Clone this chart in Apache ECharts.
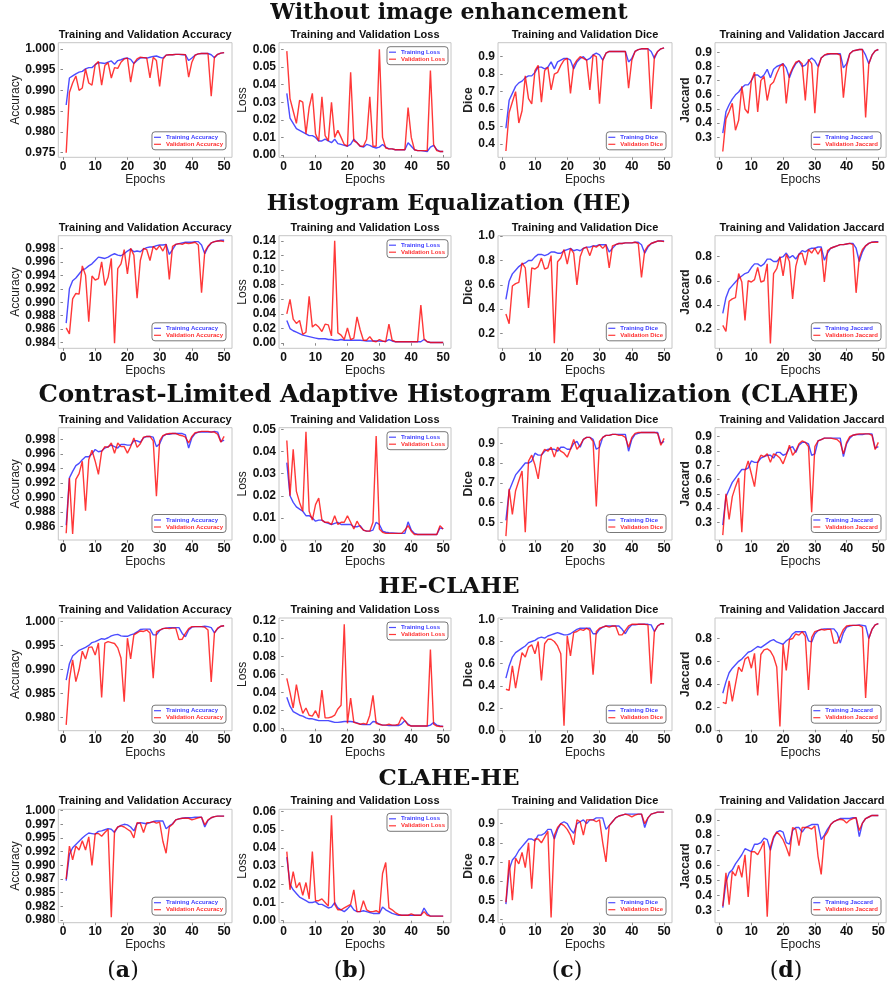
<!DOCTYPE html>
<html><head><meta charset="utf-8">
<script src="https://cdn.jsdelivr.net/npm/echarts@6/dist/echarts.min.js"></script>
<style>html,body{margin:0;padding:0;background:#fff}#c{width:888px;height:989px}</style>
</head><body><div id="c"></div><script>
// ---------- categories / labels ----------
const epochs = [1,2,3,4,5,6,7,8,9,10,11,12,13,14,15,16,17,18,19,20,21,22,23,24,25,26,27,28,29,30,31,32,33,34,35,36,37,38,39,40,41,42,43,44,45,46,47,48,49,50];
const rowTitles = ['Without image enhancement','Histogram Equalization (HE)','Contrast-Limited Adaptive Histogram Equalization (CLAHE)','HE-CLAHE','CLAHE-HE'];
const panelTitles = ['Training and Validation Accuracy','Training and Validation Loss','Training and Validation Dice','Training and Validation Jaccard'];
const yNames = ['Accuracy','Loss','Dice','Jaccard'];
const trainNames = ['Training Accuracy','Training Loss','Training Dice','Training Jaccard'];
const valNames = ['Validation Accuracy','Validation Loss','Validation Dice','Validation Jaccard'];
const subLabels = ['a','b','c','d'];
const xTicks = [0,10,20,30,40,50];

// ---------- y tick values & labels ----------
const r1AccTicks = [0.975,0.980,0.985,0.990,0.995,1.000];
const r1AccLabels = ['0.975','0.980','0.985','0.990','0.995','1.000'];
const r1LossTicks = [0,0.01,0.02,0.03,0.04,0.05,0.06];
const r1LossLabels = ['0.00','0.01','0.02','0.03','0.04','0.05','0.06'];
const r1DiceTicks = [0.4,0.5,0.6,0.7,0.8,0.9];
const r1DiceLabels = ['0.4','0.5','0.6','0.7','0.8','0.9'];
const r1JacTicks = [0.3,0.4,0.5,0.6,0.7,0.8,0.9];
const r1JacLabels = ['0.3','0.4','0.5','0.6','0.7','0.8','0.9'];

const r2AccTicks = [0.984,0.986,0.988,0.990,0.992,0.994,0.996,0.998];
const r2AccLabels = ['0.984','0.986','0.988','0.990','0.992','0.994','0.996','0.998'];
const r2LossTicks = [0,0.02,0.04,0.06,0.08,0.10,0.12,0.14];
const r2LossLabels = ['0.00','0.02','0.04','0.06','0.08','0.10','0.12','0.14'];
const r2DiceTicks = [0.2,0.4,0.6,0.8,1.0];
const r2DiceLabels = ['0.2','0.4','0.6','0.8','1.0'];
const r2JacTicks = [0.2,0.4,0.6,0.8];
const r2JacLabels = ['0.2','0.4','0.6','0.8'];

const r3AccTicks = [0.986,0.988,0.990,0.992,0.994,0.996,0.998];
const r3AccLabels = ['0.986','0.988','0.990','0.992','0.994','0.996','0.998'];
const r3LossTicks = [0,0.01,0.02,0.03,0.04,0.05];
const r3LossLabels = ['0.00','0.01','0.02','0.03','0.04','0.05'];
const r3DiceTicks = [0.5,0.6,0.7,0.8,0.9];
const r3DiceLabels = ['0.5','0.6','0.7','0.8','0.9'];
const r3JacTicks = [0.3,0.4,0.5,0.6,0.7,0.8,0.9];
const r3JacLabels = ['0.3','0.4','0.5','0.6','0.7','0.8','0.9'];

const r4AccTicks = [0.980,0.985,0.990,0.995,1.000];
const r4AccLabels = ['0.980','0.985','0.990','0.995','1.000'];
const r4LossTicks = [0,0.02,0.04,0.06,0.08,0.10,0.12];
const r4LossLabels = ['0.00','0.02','0.04','0.06','0.08','0.10','0.12'];
const r4DiceTicks = [0.0,0.2,0.4,0.6,0.8,1.0];
const r4DiceLabels = ['0.0','0.2','0.4','0.6','0.8','1.0'];
const r4JacTicks = [0.0,0.2,0.4,0.6,0.8];
const r4JacLabels = ['0.0','0.2','0.4','0.6','0.8'];

const r5AccTicks = [0.98,0.9825,0.985,0.9875,0.99,0.9925,0.995,0.9975,1.0];
const r5AccLabels = ['0.980','0.982','0.985','0.987','0.990','0.992','0.995','0.997','1.000'];
const r5LossTicks = [0,0.01,0.02,0.03,0.04,0.05,0.06];
const r5LossLabels = ['0.00','0.01','0.02','0.03','0.04','0.05','0.06'];
const r5DiceTicks = [0.4,0.5,0.6,0.7,0.8,0.9];
const r5DiceLabels = ['0.4','0.5','0.6','0.7','0.8','0.9'];
const r5JacTicks = [0.3,0.4,0.5,0.6,0.7,0.8,0.9];
const r5JacLabels = ['0.3','0.4','0.5','0.6','0.7','0.8','0.9'];

// ---------- series values: Without image enhancement ----------
const none_acc_tr = [0.9865,0.9930,0.9935,0.9940,0.9944,0.9946,0.9952,0.9955,0.9955,0.9962,0.9967,0.9966,0.9965,0.9968,0.9971,0.9963,0.9972,0.9974,0.9977,0.9978,0.9975,0.9965,0.9972,0.9978,0.9979,0.9978,0.9980,0.9982,0.9983,0.9980,0.9978,0.9985,0.9986,0.9986,0.9987,0.9987,0.9986,0.9986,0.9972,0.9978,0.9985,0.9988,0.9989,0.9989,0.9989,0.9986,0.9979,0.9987,0.9990,0.9991];
const none_acc_va = [0.9750,0.9895,0.9918,0.9935,0.9900,0.9906,0.9952,0.9918,0.9913,0.9962,0.9970,0.9913,0.9960,0.9967,0.9930,0.9955,0.9953,0.9968,0.9976,0.9978,0.9920,0.9965,0.9976,0.9980,0.9979,0.9978,0.9930,0.9980,0.9972,0.9910,0.9975,0.9985,0.9986,0.9986,0.9987,0.9987,0.9987,0.9986,0.9932,0.9968,0.9985,0.9988,0.9989,0.9989,0.9989,0.9886,0.9980,0.9987,0.9990,0.9991];
const none_loss_tr = [0.035,0.021,0.018,0.015,0.014,0.013,0.012,0.011,0.011,0.010,0.008,0.008,0.009,0.008,0.007,0.009,0.0065,0.006,0.0055,0.005,0.006,0.009,0.007,0.005,0.0045,0.006,0.0055,0.0045,0.004,0.0045,0.006,0.0045,0.0035,0.0035,0.003,0.003,0.003,0.003,0.007,0.005,0.003,0.0025,0.0025,0.0022,0.002,0.0045,0.0055,0.003,0.002,0.002];
const none_loss_va = [0.059,0.032,0.025,0.018,0.031,0.030,0.012,0.027,0.035,0.012,0.008,0.033,0.011,0.008,0.030,0.010,0.014,0.010,0.006,0.005,0.047,0.008,0.007,0.005,0.005,0.009,0.033,0.005,0.005,0.060,0.010,0.004,0.0035,0.0035,0.003,0.003,0.003,0.003,0.027,0.010,0.003,0.0025,0.0025,0.0025,0.0025,0.048,0.006,0.0025,0.002,0.002];
const none_dice_tr = [0.49,0.65,0.69,0.73,0.75,0.76,0.78,0.79,0.79,0.81,0.84,0.84,0.83,0.84,0.87,0.83,0.87,0.88,0.89,0.89,0.88,0.83,0.87,0.89,0.90,0.88,0.89,0.91,0.92,0.91,0.88,0.92,0.93,0.93,0.93,0.93,0.93,0.93,0.87,0.89,0.93,0.94,0.945,0.945,0.945,0.93,0.89,0.93,0.945,0.95];
const none_dice_va = [0.36,0.58,0.64,0.70,0.52,0.59,0.79,0.66,0.63,0.82,0.85,0.64,0.82,0.84,0.71,0.80,0.81,0.85,0.88,0.89,0.69,0.85,0.88,0.90,0.89,0.88,0.71,0.91,0.90,0.63,0.88,0.92,0.93,0.93,0.93,0.93,0.93,0.93,0.72,0.88,0.93,0.94,0.945,0.945,0.945,0.60,0.90,0.93,0.945,0.95];
const none_jac_tr = [0.33,0.48,0.53,0.57,0.60,0.62,0.65,0.67,0.67,0.70,0.74,0.74,0.72,0.74,0.78,0.72,0.78,0.80,0.81,0.82,0.79,0.72,0.78,0.82,0.84,0.80,0.81,0.84,0.86,0.84,0.80,0.86,0.88,0.885,0.89,0.89,0.89,0.89,0.79,0.82,0.89,0.91,0.915,0.92,0.92,0.88,0.82,0.88,0.91,0.92];
const none_jac_va = [0.20,0.43,0.48,0.54,0.35,0.42,0.66,0.50,0.47,0.70,0.76,0.48,0.70,0.73,0.56,0.67,0.69,0.75,0.80,0.82,0.54,0.74,0.79,0.83,0.84,0.82,0.56,0.85,0.82,0.47,0.79,0.86,0.88,0.89,0.89,0.89,0.89,0.88,0.58,0.80,0.89,0.91,0.915,0.92,0.92,0.44,0.82,0.88,0.91,0.92];

// ---------- HE ----------
const he_acc_tr = [0.9869,0.9920,0.9932,0.9936,0.9942,0.9948,0.9950,0.9954,0.9957,0.9962,0.9967,0.9966,0.9965,0.9967,0.9970,0.9972,0.9970,0.9969,0.9972,0.9976,0.9979,0.9975,0.9976,0.9975,0.9979,0.9981,0.9982,0.9982,0.9984,0.9985,0.9985,0.9986,0.9971,0.9978,0.9986,0.9987,0.9988,0.9989,0.9989,0.9989,0.9990,0.9990,0.9985,0.9972,0.9982,0.9988,0.9990,0.9991,0.9992,0.9992];
const he_acc_va = [0.9862,0.9853,0.9905,0.9913,0.9912,0.9954,0.9940,0.9871,0.9939,0.9933,0.9935,0.9960,0.9925,0.9937,0.9965,0.9839,0.9950,0.9957,0.9978,0.9942,0.9980,0.9970,0.9906,0.9962,0.9980,0.9978,0.9962,0.9983,0.9978,0.9984,0.9976,0.9986,0.9934,0.9983,0.9986,0.9987,0.9986,0.9988,0.9987,0.9988,0.9989,0.9985,0.9914,0.9975,0.9983,0.9988,0.9990,0.9991,0.9991,0.9990];
const he_loss_tr = [0.031,0.020,0.017,0.015,0.013,0.011,0.010,0.009,0.008,0.007,0.006,0.006,0.006,0.005,0.005,0.004,0.004,0.005,0.004,0.004,0.004,0.004,0.004,0.004,0.0035,0.003,0.003,0.003,0.003,0.003,0.0025,0.0025,0.005,0.003,0.002,0.002,0.002,0.002,0.002,0.002,0.002,0.002,0.002,0.005,0.002,0.001,0.001,0.001,0.001,0.001];
const he_loss_va = [0.040,0.060,0.033,0.027,0.031,0.012,0.015,0.064,0.022,0.026,0.022,0.016,0.026,0.025,0.010,0.140,0.014,0.011,0.005,0.021,0.005,0.007,0.036,0.018,0.004,0.004,0.009,0.003,0.002,0.005,0.003,0.002,0.026,0.004,0.002,0.002,0.002,0.002,0.002,0.002,0.002,0.002,0.052,0.006,0.002,0.001,0.001,0.001,0.001,0.001];
const he_dice_tr = [0.48,0.63,0.69,0.72,0.75,0.77,0.78,0.80,0.80,0.83,0.85,0.85,0.84,0.85,0.87,0.87,0.86,0.86,0.88,0.89,0.90,0.88,0.89,0.88,0.90,0.91,0.91,0.92,0.92,0.93,0.93,0.93,0.87,0.90,0.93,0.94,0.94,0.945,0.945,0.945,0.95,0.95,0.93,0.86,0.91,0.94,0.95,0.96,0.96,0.96];
const he_dice_va = [0.36,0.28,0.59,0.61,0.62,0.78,0.74,0.41,0.74,0.73,0.75,0.82,0.73,0.74,0.84,0.12,0.79,0.82,0.89,0.77,0.90,0.86,0.60,0.83,0.90,0.91,0.84,0.92,0.91,0.93,0.90,0.93,0.74,0.92,0.93,0.94,0.94,0.945,0.945,0.945,0.95,0.94,0.66,0.88,0.92,0.94,0.95,0.96,0.96,0.955];
const he_jac_tr = [0.33,0.46,0.53,0.56,0.59,0.62,0.64,0.66,0.67,0.71,0.74,0.74,0.72,0.74,0.78,0.78,0.76,0.76,0.79,0.80,0.83,0.79,0.81,0.78,0.82,0.85,0.84,0.86,0.87,0.87,0.88,0.88,0.77,0.83,0.87,0.88,0.89,0.90,0.90,0.905,0.91,0.91,0.87,0.76,0.84,0.89,0.91,0.92,0.925,0.925];
const he_jac_va = [0.23,0.18,0.43,0.45,0.46,0.66,0.59,0.27,0.60,0.59,0.61,0.71,0.59,0.60,0.74,0.08,0.66,0.70,0.80,0.64,0.82,0.76,0.45,0.72,0.82,0.83,0.73,0.86,0.83,0.87,0.82,0.87,0.59,0.85,0.87,0.88,0.89,0.90,0.90,0.905,0.91,0.90,0.50,0.79,0.86,0.89,0.91,0.92,0.92,0.92];

// ---------- CLAHE ----------
const clahe_acc_tr = [0.9862,0.9927,0.9936,0.9944,0.9947,0.9952,0.9956,0.9956,0.9960,0.9966,0.9963,0.9964,0.9968,0.9970,0.9972,0.9970,0.9968,0.9973,0.9973,0.9972,0.9972,0.9978,0.9978,0.9976,0.9982,0.9984,0.9984,0.9983,0.9970,0.9974,0.9984,0.9987,0.9987,0.9988,0.9988,0.9988,0.9988,0.9986,0.9968,0.9982,0.9988,0.9990,0.9990,0.9990,0.9990,0.9990,0.9991,0.9990,0.9977,0.9979];
const clahe_acc_va = [0.9851,0.9927,0.9850,0.9925,0.9933,0.9950,0.9882,0.9952,0.9965,0.9950,0.9932,0.9963,0.9970,0.9969,0.9975,0.9961,0.9975,0.9970,0.9970,0.9961,0.9970,0.9982,0.9969,0.9974,0.9983,0.9984,0.9984,0.9978,0.9902,0.9978,0.9985,0.9987,0.9988,0.9988,0.9988,0.9986,0.9985,0.9983,0.9975,0.9984,0.9989,0.9990,0.9991,0.9991,0.9991,0.9990,0.9990,0.9987,0.9976,0.9984];
const clahe_loss_tr = [0.035,0.020,0.017,0.015,0.014,0.013,0.011,0.011,0.010,0.0085,0.009,0.009,0.008,0.0075,0.007,0.0075,0.008,0.007,0.007,0.007,0.007,0.006,0.006,0.0065,0.0045,0.004,0.004,0.0045,0.008,0.007,0.004,0.0035,0.0033,0.0032,0.0031,0.003,0.003,0.003,0.0082,0.0045,0.003,0.0025,0.0025,0.0025,0.0025,0.0025,0.0025,0.0025,0.0055,0.005];
const clahe_loss_va = [0.045,0.020,0.041,0.022,0.017,0.013,0.049,0.013,0.009,0.016,0.019,0.009,0.008,0.008,0.007,0.011,0.007,0.008,0.008,0.011,0.008,0.005,0.0085,0.006,0.0045,0.004,0.004,0.008,0.047,0.005,0.0035,0.003,0.003,0.003,0.003,0.003,0.003,0.0045,0.0065,0.004,0.0025,0.0025,0.0025,0.0025,0.0025,0.0025,0.0025,0.0025,0.0065,0.005];
const clahe_dice_tr = [0.51,0.66,0.70,0.74,0.76,0.78,0.80,0.80,0.81,0.85,0.84,0.84,0.86,0.87,0.87,0.87,0.86,0.88,0.88,0.87,0.87,0.90,0.91,0.88,0.92,0.93,0.93,0.92,0.87,0.88,0.93,0.94,0.94,0.945,0.945,0.945,0.945,0.945,0.86,0.92,0.945,0.95,0.955,0.955,0.955,0.955,0.955,0.955,0.90,0.91];
const clahe_dice_va = [0.43,0.67,0.54,0.66,0.71,0.76,0.45,0.81,0.84,0.79,0.72,0.84,0.87,0.86,0.88,0.83,0.88,0.86,0.85,0.83,0.87,0.92,0.87,0.89,0.92,0.93,0.93,0.91,0.58,0.91,0.93,0.94,0.94,0.945,0.945,0.94,0.94,0.93,0.88,0.93,0.95,0.955,0.955,0.955,0.955,0.955,0.955,0.95,0.89,0.925];
const clahe_jac_tr = [0.28,0.48,0.53,0.58,0.61,0.64,0.67,0.67,0.68,0.73,0.72,0.72,0.75,0.76,0.77,0.77,0.75,0.79,0.79,0.77,0.78,0.82,0.83,0.79,0.84,0.86,0.86,0.85,0.77,0.78,0.87,0.88,0.89,0.89,0.89,0.89,0.89,0.89,0.76,0.85,0.89,0.91,0.915,0.915,0.915,0.92,0.92,0.92,0.82,0.83];
const clahe_jac_va = [0.21,0.50,0.32,0.48,0.55,0.61,0.23,0.66,0.73,0.64,0.55,0.72,0.77,0.76,0.78,0.72,0.78,0.77,0.75,0.71,0.77,0.84,0.77,0.80,0.85,0.87,0.86,0.83,0.37,0.83,0.87,0.88,0.89,0.89,0.89,0.885,0.88,0.86,0.78,0.86,0.90,0.91,0.915,0.92,0.92,0.92,0.92,0.91,0.81,0.86];

// ---------- HE-CLAHE ----------
const heclahe_acc_tr = [0.9878,0.9912,0.9928,0.9934,0.9940,0.9943,0.9946,0.9950,0.9956,0.9958,0.9961,0.9964,0.9963,0.9966,0.9970,0.9972,0.9973,0.9970,0.9969,0.9969,0.9972,0.9974,0.9978,0.9983,0.9984,0.9984,0.9984,0.9972,0.9972,0.9981,0.9985,0.9986,0.9987,0.9987,0.9987,0.9987,0.9975,0.9968,0.9982,0.9988,0.9989,0.9989,0.9989,0.9990,0.9989,0.9987,0.9976,0.9985,0.9990,0.9991];
const heclahe_acc_va = [0.9785,0.9880,0.9920,0.9875,0.9900,0.9938,0.9922,0.9946,0.9947,0.9930,0.9955,0.9842,0.9955,0.9958,0.9956,0.9954,0.9945,0.9924,0.9833,0.9965,0.9922,0.9972,0.9976,0.9980,0.9979,0.9982,0.9976,0.9882,0.9978,0.9982,0.9985,0.9986,0.9985,0.9986,0.9986,0.9962,0.9963,0.9975,0.9985,0.9989,0.9989,0.9989,0.9989,0.9988,0.9982,0.9874,0.9976,0.9986,0.9990,0.9991];
const heclahe_loss_tr = [0.035,0.025,0.019,0.017,0.015,0.014,0.012,0.011,0.011,0.010,0.009,0.009,0.009,0.009,0.008,0.007,0.007,0.0075,0.008,0.008,0.008,0.0075,0.0065,0.005,0.0045,0.0045,0.0045,0.008,0.0075,0.005,0.004,0.004,0.0035,0.0035,0.0035,0.0035,0.0055,0.009,0.005,0.003,0.003,0.003,0.003,0.003,0.003,0.004,0.007,0.004,0.003,0.0025];
const heclahe_loss_va = [0.056,0.040,0.023,0.049,0.030,0.017,0.023,0.015,0.014,0.020,0.012,0.043,0.012,0.012,0.013,0.015,0.022,0.026,0.116,0.006,0.034,0.007,0.006,0.005,0.006,0.005,0.015,0.037,0.006,0.005,0.004,0.004,0.005,0.004,0.004,0.005,0.013,0.009,0.004,0.003,0.003,0.003,0.003,0.003,0.003,0.088,0.005,0.003,0.0025,0.0025];
const heclahe_dice_tr = [0.47,0.58,0.66,0.70,0.72,0.74,0.76,0.79,0.80,0.81,0.83,0.84,0.83,0.85,0.86,0.87,0.88,0.87,0.86,0.86,0.87,0.89,0.91,0.92,0.92,0.92,0.92,0.87,0.87,0.91,0.93,0.94,0.94,0.94,0.94,0.94,0.91,0.87,0.92,0.95,0.95,0.955,0.955,0.955,0.955,0.95,0.89,0.94,0.96,0.96];
const heclahe_dice_va = [0.37,0.36,0.58,0.38,0.55,0.70,0.66,0.75,0.77,0.69,0.80,0.45,0.78,0.82,0.82,0.80,0.76,0.69,0.04,0.85,0.67,0.88,0.89,0.91,0.90,0.92,0.90,0.50,0.89,0.92,0.93,0.94,0.93,0.94,0.94,0.86,0.86,0.90,0.94,0.955,0.955,0.955,0.955,0.955,0.95,0.42,0.89,0.94,0.96,0.96];
const heclahe_jac_tr = [0.32,0.42,0.50,0.54,0.57,0.60,0.62,0.65,0.68,0.69,0.71,0.73,0.72,0.74,0.76,0.78,0.79,0.77,0.76,0.75,0.78,0.80,0.84,0.86,0.86,0.86,0.86,0.78,0.77,0.84,0.87,0.88,0.885,0.885,0.885,0.885,0.85,0.76,0.85,0.90,0.91,0.915,0.915,0.92,0.915,0.91,0.80,0.88,0.92,0.93];
const heclahe_jac_va = [0.24,0.23,0.43,0.25,0.40,0.55,0.51,0.62,0.64,0.54,0.67,0.30,0.66,0.70,0.71,0.69,0.64,0.55,0.03,0.75,0.52,0.79,0.80,0.84,0.83,0.86,0.82,0.35,0.81,0.86,0.87,0.88,0.875,0.88,0.88,0.76,0.76,0.82,0.88,0.91,0.915,0.915,0.915,0.915,0.90,0.28,0.80,0.88,0.92,0.93];

// ---------- CLAHE-HE ----------
const clahehe_acc_tr = [0.9872,0.9920,0.9932,0.9938,0.9944,0.9950,0.9955,0.9959,0.9958,0.9957,0.9962,0.9963,0.9965,0.9967,0.9966,0.9960,0.9970,0.9973,0.9975,0.9974,0.9970,0.9963,0.9976,0.9978,0.9977,0.9976,0.9978,0.9980,0.9981,0.9981,0.9981,0.9967,0.9972,0.9976,0.9983,0.9985,0.9986,0.9987,0.9987,0.9987,0.9988,0.9988,0.9988,0.9970,0.9982,0.9987,0.9989,0.9990,0.9990,0.9990];
const clahehe_acc_va = [0.9875,0.9935,0.9910,0.9935,0.9928,0.9945,0.9928,0.9952,0.9900,0.9958,0.9958,0.9953,0.9960,0.9966,0.9805,0.9962,0.9970,0.9972,0.9970,0.9966,0.9962,0.9950,0.9978,0.9977,0.9960,0.9978,0.9978,0.9980,0.9977,0.9979,0.9944,0.9922,0.9970,0.9975,0.9983,0.9985,0.9986,0.9986,0.9986,0.9983,0.9985,0.9987,0.9988,0.9974,0.9983,0.9987,0.9989,0.9990,0.9990,0.9990];
const clahehe_loss_tr = [0.035,0.020,0.017,0.015,0.013,0.012,0.011,0.010,0.010,0.0105,0.009,0.009,0.008,0.007,0.0075,0.010,0.007,0.006,0.005,0.0065,0.0085,0.006,0.005,0.005,0.0055,0.005,0.0045,0.004,0.004,0.004,0.0075,0.006,0.005,0.004,0.0035,0.003,0.003,0.003,0.003,0.003,0.003,0.003,0.003,0.007,0.004,0.0025,0.0025,0.0025,0.0025,0.0025];
const clahehe_loss_va = [0.038,0.017,0.027,0.018,0.021,0.014,0.021,0.012,0.038,0.011,0.011,0.012,0.010,0.008,0.058,0.009,0.006,0.006,0.007,0.008,0.009,0.017,0.005,0.005,0.011,0.006,0.005,0.005,0.0055,0.0045,0.026,0.032,0.007,0.006,0.0045,0.0035,0.003,0.003,0.003,0.0038,0.003,0.003,0.003,0.005,0.003,0.0025,0.0025,0.0025,0.0025,0.0025];
const clahehe_dice_tr = [0.48,0.66,0.71,0.73,0.76,0.78,0.80,0.82,0.82,0.81,0.84,0.84,0.85,0.87,0.87,0.82,0.87,0.90,0.91,0.90,0.87,0.85,0.90,0.91,0.92,0.90,0.92,0.92,0.93,0.93,0.93,0.87,0.89,0.91,0.93,0.94,0.945,0.95,0.95,0.95,0.95,0.95,0.95,0.88,0.93,0.95,0.955,0.96,0.96,0.96];
const clahehe_dice_va = [0.49,0.71,0.50,0.72,0.69,0.75,0.67,0.80,0.56,0.82,0.82,0.80,0.83,0.86,0.41,0.84,0.88,0.90,0.89,0.87,0.84,0.79,0.92,0.91,0.84,0.92,0.92,0.92,0.91,0.92,0.80,0.70,0.89,0.91,0.93,0.94,0.945,0.95,0.945,0.935,0.945,0.95,0.95,0.90,0.93,0.95,0.955,0.96,0.96,0.96];
const clahehe_jac_tr = [0.32,0.49,0.55,0.57,0.61,0.64,0.67,0.71,0.70,0.69,0.74,0.74,0.75,0.78,0.77,0.70,0.78,0.82,0.83,0.82,0.75,0.74,0.83,0.85,0.85,0.82,0.85,0.86,0.87,0.87,0.87,0.77,0.80,0.84,0.87,0.89,0.90,0.91,0.91,0.91,0.91,0.915,0.915,0.79,0.88,0.91,0.92,0.93,0.93,0.93];
const clahehe_jac_va = [0.33,0.55,0.34,0.56,0.53,0.60,0.52,0.67,0.39,0.69,0.69,0.67,0.71,0.76,0.26,0.72,0.79,0.82,0.80,0.77,0.72,0.66,0.85,0.84,0.73,0.85,0.85,0.85,0.84,0.86,0.66,0.54,0.79,0.82,0.87,0.89,0.90,0.905,0.90,0.88,0.90,0.91,0.915,0.83,0.88,0.91,0.92,0.93,0.93,0.93];

// ---------- assembly ----------
const rowsData = [
  [[none_acc_tr,none_acc_va],[none_loss_tr,none_loss_va],[none_dice_tr,none_dice_va],[none_jac_tr,none_jac_va]],
  [[he_acc_tr,he_acc_va],[he_loss_tr,he_loss_va],[he_dice_tr,he_dice_va],[he_jac_tr,he_jac_va]],
  [[clahe_acc_tr,clahe_acc_va],[clahe_loss_tr,clahe_loss_va],[clahe_dice_tr,clahe_dice_va],[clahe_jac_tr,clahe_jac_va]],
  [[heclahe_acc_tr,heclahe_acc_va],[heclahe_loss_tr,heclahe_loss_va],[heclahe_dice_tr,heclahe_dice_va],[heclahe_jac_tr,heclahe_jac_va]],
  [[clahehe_acc_tr,clahehe_acc_va],[clahehe_loss_tr,clahehe_loss_va],[clahehe_dice_tr,clahehe_dice_va],[clahehe_jac_tr,clahehe_jac_va]]
];
const rowsTicks = [
  [[r1AccTicks,r1AccLabels],[r1LossTicks,r1LossLabels],[r1DiceTicks,r1DiceLabels],[r1JacTicks,r1JacLabels]],
  [[r2AccTicks,r2AccLabels],[r2LossTicks,r2LossLabels],[r2DiceTicks,r2DiceLabels],[r2JacTicks,r2JacLabels]],
  [[r3AccTicks,r3AccLabels],[r3LossTicks,r3LossLabels],[r3DiceTicks,r3DiceLabels],[r3JacTicks,r3JacLabels]],
  [[r4AccTicks,r4AccLabels],[r4LossTicks,r4LossLabels],[r4DiceTicks,r4DiceLabels],[r4JacTicks,r4JacLabels]],
  [[r5AccTicks,r5AccLabels],[r5LossTicks,r5LossLabels],[r5DiceTicks,r5DiceLabels],[r5JacTicks,r5JacLabels]]
];
// layout (axis ranges & frame positions)
const yLimits = [
  [[0.9739,1.0015],[-0.0013,0.0638],[0.3237,0.980],[0.159,0.968]],
  [[0.98316,0.99988],[-0.007,0.147],[0.078,1.004],[0.0397,0.974]],
  [[0.98417,0.9996],[0.0,0.0508],[0.4105,0.979],[0.176,0.963]],
  [[0.9773,1.0007],[-0.0022,0.123],[-0.004,1.012],[-0.008,0.98]],
  [[0.97951,1.00024],[-0.0011,0.0613],[0.383,0.975],[0.220,0.971]]
];
const colFrames = [[58.3,232],[279,451],[498,672],[715,889]];
const rowFrames = [[42.7,157.3],[235.7,348.3],[427.7,540],[618,730.7],[809.3,922.7]];
const headingY = [13,204,396,587,779];
const headingSize = [22,22.3,24.3,23,23];
const subLabelX = [123,350,567,786];
const yNameGap = [34,22,21,21];
const yNameBold = ['normal','normal','bold','bold'];

const SANS = 'Liberation Sans, Arial, sans-serif';
const SERIF = 'DejaVu Serif, serif';
const BLUE = 'rgba(0,0,255,0.7)';
const RED = 'rgba(255,0,0,0.78)';
const W = 888, H = 989;

const grids = [], xAxes = [], yAxes = [], series = [], legends = [], graphics = [];
let gi = 0;
for (let r = 0; r < 5; r++) {
  for (let c = 0; c < 4; c++) {
    const [L, R] = colFrames[c];
    const [T, B] = rowFrames[r];
    grids.push({left: L, top: T, width: R - L, height: B - T, show: true, borderColor: '#c6c6c6', borderWidth: 1, backgroundColor: 'transparent', containLabel: false});
    xAxes.push({gridIndex: gi, type: 'value', min: -1.45, max: 52.45,
      axisLine: {show: false}, splitLine: {show: false},
      axisTick: {show: true, customValues: xTicks, length: 2.5, lineStyle: {color: '#888'}},
      axisLabel: {customValues: xTicks, margin: 3, fontSize: 12, fontWeight: 'bold', color: '#111', fontFamily: SANS},
      name: 'Epochs', nameLocation: 'middle', nameGap: 13,
      nameTextStyle: {fontSize: 12, color: '#222', fontFamily: SANS}});
    const [tv, tl] = rowsTicks[r][c];
    yAxes.push({gridIndex: gi, type: 'value', min: yLimits[r][c][0], max: yLimits[r][c][1],
      axisLine: {show: false}, splitLine: {show: false},
      axisTick: {show: true, customValues: tv, length: 2.5, lineStyle: {color: '#888'}},
      axisLabel: {customValues: tv, margin: 3, fontSize: 12, fontWeight: 'bold', color: '#111', fontFamily: SANS,
        formatter: (v) => { let bi = 0; for (let k = 1; k < tv.length; k++) if (Math.abs(tv[k]-v) < Math.abs(tv[bi]-v)) bi = k; return tl[bi]; }},
      name: yNames[c], nameLocation: 'middle', nameGap: yNameGap[c],
      nameTextStyle: {fontSize: 12, color: '#222', fontFamily: SANS, fontWeight: yNameBold[c]}});
    const [tr, va] = rowsData[r][c];
    series.push({type: 'line', name: trainNames[c], xAxisIndex: gi, yAxisIndex: gi, symbol: 'none', showSymbol: false, z: 2,
      data: epochs.map((e, i) => [e, tr[i]]), lineStyle: {color: BLUE, width: 1.4}, itemStyle: {color: BLUE}});
    series.push({type: 'line', name: valNames[c], xAxisIndex: gi, yAxisIndex: gi, symbol: 'none', showSymbol: false, z: 3,
      data: epochs.map((e, i) => [e, va[i]]), lineStyle: {color: RED, width: 1.4}, itemStyle: {color: RED}});
    const lg = {orient: 'vertical', icon: 'rect', itemWidth: 7, itemHeight: 1.2, itemGap: 0, padding: [2, 3, 2, 2],
      borderColor: '#555', borderWidth: 0.8, borderRadius: 3, backgroundColor: '#fff', selectedMode: false,
      textStyle: {fontSize: 6, fontWeight: 'bold', fontFamily: SANS, lineHeight: 7},
      data: [{name: trainNames[c], textStyle: {color: '#4040ff'}}, {name: valNames[c], textStyle: {color: '#ff3030'}}]};
    if (c === 1) { lg.right = W - (R - 3); lg.top = T + 4; }
    else { const off = c === 3 ? 8 : 6; lg.right = W - (R - off); lg.bottom = H - (B - 7.5); }
    legends.push(lg);
    graphics.push({type: 'text', x: (L + R) / 2, y: T - 8, style: {text: panelTitles[c], fontSize: 11, fontWeight: 'bold', fontFamily: SANS, fill: '#111', align: 'center', verticalAlign: 'middle', textAlign: 'center', textVerticalAlign: 'middle'}});
    gi++;
  }
  graphics.push({type: 'text', x: 449, y: headingY[r], style: {text: rowTitles[r], fontSize: headingSize[r], fontWeight: 'bold', fontFamily: SERIF, fill: '#111', align: 'center', verticalAlign: 'middle', textAlign: 'center', textVerticalAlign: 'middle'}});
}
for (let c = 0; c < 4; c++) {
  graphics.push({type: 'text', x: subLabelX[c], y: 971, style: {text: '{p|(}{b|' + subLabels[c] + '}{p|)}', align: 'center', verticalAlign: 'middle', textAlign: 'center', textVerticalAlign: 'middle',
    rich: {p: {fontSize: 22, fontFamily: SERIF, fill: '#111', fontWeight: 'normal'}, b: {fontSize: 22, fontFamily: SERIF, fill: '#111', fontWeight: 'bold'}}}});
}

const chart = echarts.init(document.getElementById('c'), null, {renderer: 'canvas'});
chart.setOption({animation: false, backgroundColor: '#fff', grid: grids, xAxis: xAxes, yAxis: yAxes, series: series, legend: legends, graphic: graphics});
</script></body></html>
